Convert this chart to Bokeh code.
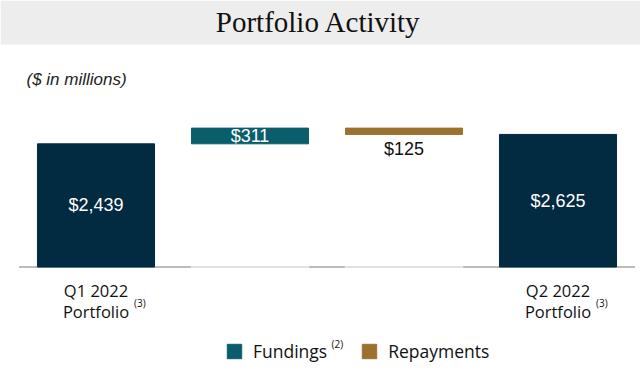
from bokeh.plotting import figure
from bokeh.models import Range1d, ColumnDataSource, Label, BoxAnnotation, Legend, LegendItem
from bokeh.embed import file_html
from bokeh.resources import INLINE
from bokeh.core.properties import value

# ---------------- data ----------------
title_text = "Portfolio Activity"
unit_note = "($ in millions)"
categories = ["Q1 2022 Portfolio", "Fundings", "Repayments", "Q2 2022 Portfolio"]
cat_line1 = ["Q1 2022", "", "", "Q2 2022"]
cat_line2 = ["Portfolio", "", "", "Portfolio"]
cat_note = ["(3)", "", "", "(3)"]
start_total = 2439
fundings = 311
repayments = 125
end_total = 2625
legend_labels = ["Fundings", "Repayments"]
legend_note = "(2)"

# ---------------- colours ----------------
NAVY = "#022a41"
TEAL = "#0a5e6c"
BROWN = "#9c7130"
BAND = "#ededed"
BASE = "#a6a6a6"

# ---------------- layout helpers (picture pixels -> data) ----------------
W, H = 640, 371
PX0, PY0 = 0, 0
CAT_PX = 154.0
CAT0_X = 95.5
BASE_Y = 266.5
UNITS_PER_PX = 19.8
BAR_W = 0.76


def dx(px):
    return (px - CAT0_X) / CAT_PX


def dy(py):
    return (BASE_Y - py) * UNITS_PER_PX


p = figure(width=W, height=H, output_backend="svg", toolbar_location=None,
           x_range=Range1d(dx(PX0), dx(PX0 + W)),
           y_range=Range1d(dy(PY0 + H), dy(PY0)),
           x_axis_location=None, y_axis_location=None,
           min_border=0, background_fill_color="white", border_fill_color="white")
p.grid.visible = False
p.outline_line_color = None

# header band
p.add_layout(BoxAnnotation(bottom=dy(44), fill_color=BAND, fill_alpha=1, line_color=None, level="underlay"))
p.add_layout(Label(x=dx(318), y=dy(21), text=title_text, text_align="center",
                   text_baseline="middle", text_font="Liberation Serif",
                   text_font_size="29px", text_color="#111111"))
p.add_layout(Label(x=dx(26), y=dy(79), text=unit_note, text_align="left",
                   text_baseline="middle", text_font="Liberation Sans", text_font_style="italic",
                   text_font_size="17px", text_color="#222222"))

# waterfall geometry from values
idx = list(range(len(categories)))
after_fund = start_total + fundings
bottoms = [0, start_total, after_fund - repayments, 0]
tops = [start_total, after_fund, after_fund, end_total]
vals = [start_total, fundings, repayments, end_total]

# baseline across all categories
p.segment(x0=[-0.5], y0=[0], x1=[len(categories) - 0.5], y1=[0], line_color=BASE, line_width=1.5)

# invisible waterfall supports (lighten the baseline beneath floating bars)
base_src = ColumnDataSource(dict(x=[idx[1], idx[2]], top=[bottoms[1], bottoms[2]], bottom=[0, 0]))
p.vbar(x="x", top="top", bottom="bottom", width=BAR_W, source=base_src,
       fill_color="white", fill_alpha=0, line_color="white", line_alpha=0.75, line_width=1.5)

tot_src = ColumnDataSource(dict(x=[idx[0], idx[3]], top=[tops[0], tops[3]], bottom=[bottoms[0], bottoms[3]]))
fund_src = ColumnDataSource(dict(x=[idx[1]], top=[tops[1]], bottom=[bottoms[1]]))
rep_src = ColumnDataSource(dict(x=[idx[2]], top=[tops[2]], bottom=[bottoms[2]]))

p.vbar(x="x", top="top", bottom="bottom", width=BAR_W, source=tot_src, fill_color=NAVY, line_color=NAVY)
r_fund = p.vbar(x="x", top="top", bottom="bottom", width=BAR_W, source=fund_src, fill_color=TEAL, line_color=TEAL)
r_rep = p.vbar(x="x", top="top", bottom="bottom", width=BAR_W, source=rep_src, fill_color=BROWN, line_color=BROWN)

# value labels
labels = ["$" + f"{v:,}" for v in vals]
in_src = ColumnDataSource(dict(x=[idx[0], idx[1], idx[3]],
                               y=[(tops[i] + bottoms[i]) / 2 for i in (0, 1, 3)],
                               t=[labels[i] for i in (0, 1, 3)]))
p.text(x="x", y="y", text="t", source=in_src, text_align="center", text_baseline="middle",
       text_font=value("Liberation Sans"), text_font_size="18px", text_color="white")
out_src = ColumnDataSource(dict(x=[idx[2]], y=[bottoms[2]], t=[labels[2]]))
p.text(x="x", y="y", text="t", source=out_src, text_align="center", text_baseline="top", y_offset=5,
       text_font=value("Liberation Sans"), text_font_size="18px", text_color="#111111")

# category labels
cat_src = ColumnDataSource(dict(x=idx, l1=cat_line1, l2=cat_line2, n=cat_note,
                                y1=[dy(290)] * len(idx), y2=[dy(311)] * len(idx),
                                yn=[dy(302)] * len(idx), xn=[i + 38 / CAT_PX for i in idx]))
p.text(x="x", y="y1", text="l1", source=cat_src, text_align="center", text_baseline="middle",
       text_font=value("Open Sans"), text_font_size="16.5px", text_color="#111111")
p.text(x="x", y="y2", text="l2", source=cat_src, text_align="center", text_baseline="middle",
       text_font=value("Open Sans"), text_font_size="16.5px", text_color="#111111")
p.text(x="xn", y="yn", text="n", source=cat_src, text_align="left", text_baseline="middle",
       text_font=value("Open Sans"), text_font_size="10px", text_color="#111111")

# legend
legend = Legend(items=[LegendItem(label=legend_labels[0], renderers=[r_fund]),
                       LegendItem(label=legend_labels[1], renderers=[r_rep])],
                orientation="horizontal", location=(225, 8), padding=0, margin=0,
                spacing=33, label_standoff=10, glyph_width=18, glyph_height=18,
                label_height=18, label_text_font="Open Sans", label_text_font_size="17.5px",
                label_text_color="#111111", border_line_color=None, background_fill_alpha=0)
p.add_layout(legend)
p.add_layout(Label(x=dx(331), y=dy(343), text=legend_note, text_align="left", text_baseline="middle",
                   text_font="Open Sans", text_font_size="10px", text_color="#111111"))

open("out.html", "w").write(file_html(p, INLINE))
